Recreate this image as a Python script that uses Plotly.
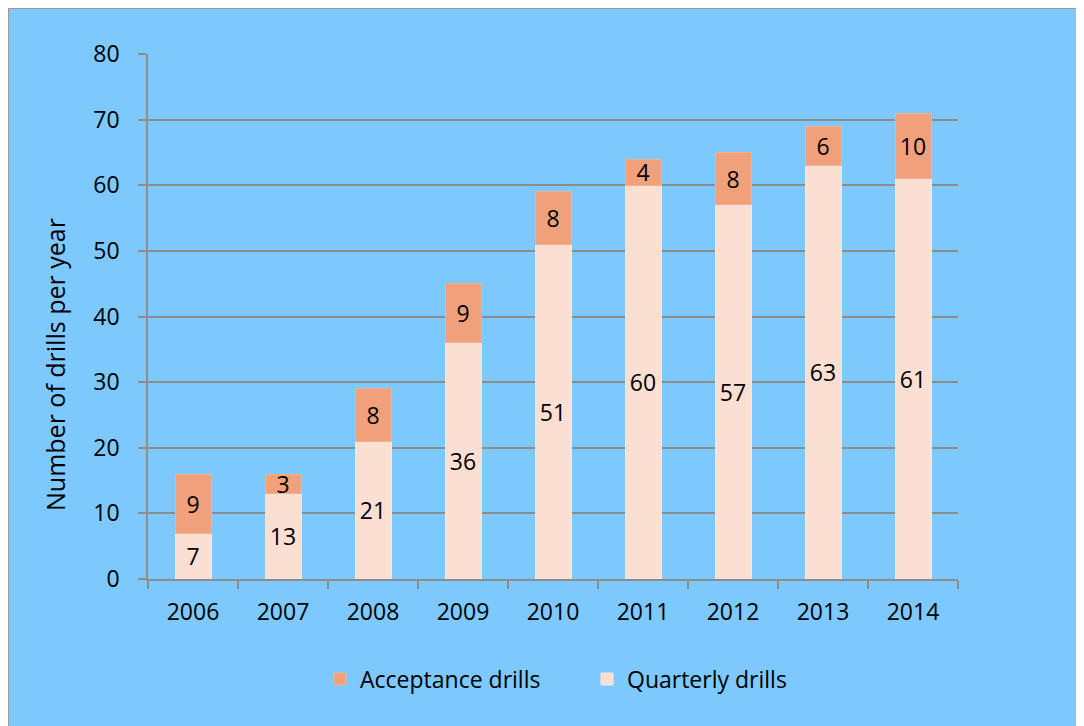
import plotly.graph_objects as go

years = ["2006", "2007", "2008", "2009", "2010", "2011", "2012", "2013", "2014"]
quarterly = [7, 13, 21, 36, 51, 60, 57, 63, 61]
acceptance = [9, 3, 8, 9, 8, 4, 8, 6, 10]

FONT = "Open Sans"
BG = "#7DC8FD"
GRID = "#8C8C8C"
FS = 23

fig = go.Figure()
fig.add_trace(go.Bar(
    x=years, y=quarterly, name="Quarterly drills",
    marker=dict(color="#FADFD2", line=dict(color="#F7E6DE", width=1)),
    text=quarterly, textposition="inside", insidetextanchor="middle", textangle=0,
    textfont=dict(family=FONT, size=FS, color="black"),
    width=0.4,
))
fig.add_trace(go.Bar(
    x=years, y=acceptance, name="Acceptance drills",
    marker=dict(color="#F0A07A", line=dict(color="#F2B08F", width=1)),
    text=acceptance, textposition="inside", insidetextanchor="middle", textangle=0,
    textfont=dict(family=FONT, size=FS, color="black"),
    width=0.4,
))

# figure coords (page is offset by the 8px body margin)
L, R, T, B = 140, 950, 46, 571
W, H = 1084, 726
pw, ph = R - L, B - T

fig.add_shape(
    type="rect", xref="paper", yref="paper",
    x0=(0 - L) / pw, x1=(W + 10 - L) / pw,
    y0=(B - (H + 10)) / ph, y1=(B - 0) / ph,
    fillcolor="rgba(0,0,0,0)", line=dict(color="#9A9A9A", width=2), layer="below",
)

fig.add_annotation(
    text="Number of drills per year", textangle=-90, showarrow=False,
    xref="paper", yref="paper",
    x=(47 - L) / pw, y=(B - 357) / ph, xanchor="center", yanchor="middle",
    font=dict(family=FONT, size=25, color="black"),
)

fig.update_layout(
    width=W, height=H,
    margin=dict(l=L, r=W - R, t=T, b=H - B, pad=0),
    paper_bgcolor=BG, plot_bgcolor="rgba(0,0,0,0)",
    barmode="stack",
    uniformtext=dict(minsize=FS, mode="show"),
    font=dict(family=FONT, size=FS, color="black"),
    showlegend=True,
    legend=dict(orientation="h", x=(312 - L) / pw, xanchor="left", y=(B - 671) / ph, yanchor="middle",
                traceorder="reversed", font=dict(family=FONT, size=FS),
                bgcolor="rgba(0,0,0,0)", itemwidth=30,
                entrywidth=222, entrywidthmode="pixels"),
    xaxis=dict(
        type="category", showgrid=False, showline=True, linecolor=GRID, linewidth=1.5,
        ticks="outside", tickson="boundaries", ticklen=8, tickcolor=GRID, tickwidth=1.5,
        tickfont=dict(family=FONT, size=FS), range=[-0.5, 8.5], ticklabelstandoff=12,
    ),
    yaxis=dict(
        range=[0, 80], dtick=10, showgrid=True, gridcolor=GRID, gridwidth=1.5,
        showline=True, linecolor=GRID, linewidth=1.5,
        ticks="outside", ticklen=8, tickcolor=GRID, tickwidth=1.5,
        tickfont=dict(family=FONT, size=FS), zeroline=False, ticklabelstandoff=14,
    ),
)

fig.write_html("out.html")
